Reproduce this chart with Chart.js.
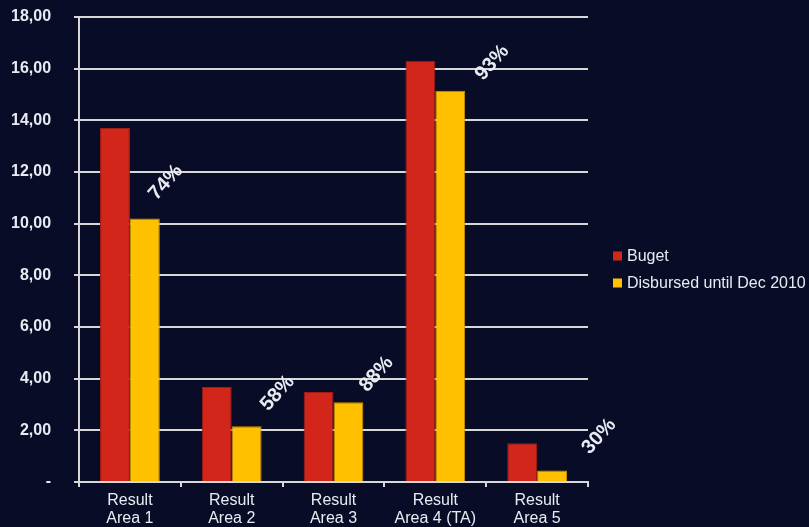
<!DOCTYPE html>
<html><head><meta charset="utf-8">
<script src="https://cdn.jsdelivr.net/npm/chart.js@4/dist/chart.umd.min.js"></script>
<style>html,body{margin:0;padding:0;background:#080c27;}#wrap{width:809px;height:527px;position:relative;}</style>
</head><body><div id="wrap"><canvas id="c" width="809" height="527"></canvas></div>
<script>
const categories = [['Result','Area 1'],['Result','Area 2'],['Result','Area 3'],['Result','Area 4 (TA)'],['Result','Area 5']];
const seriesNames = ['Buget','Disbursed until Dec 2010'];
const budget = [13.70, 3.68, 3.48, 16.31, 1.50];
const disbursed = [10.20, 2.16, 3.09, 15.15, 0.45];
const percentLabels = ['74%','58%','88%','93%','30%'];
const yTickLabels = ['-','2,00','4,00','6,00','8,00','10,00','12,00','14,00','16,00','18,00'];

const TEXT = '#e8ebf2';
const FONT = '"Liberation Sans", Arial, sans-serif';

const percentPlugin = {
  id: 'percentLabels',
  afterDatasetsDraw(chart, args, opts) {
    const meta = chart.getDatasetMeta(1);
    const ctx = chart.ctx;
    ctx.save();
    ctx.fillStyle = TEXT;
    ctx.font = 'bold 20px ' + FONT;
    ctx.textAlign = 'center';
    ctx.textBaseline = 'middle';
    meta.data.forEach((el, i) => {
      const off = opts.offsets[i];
      ctx.save();
      ctx.translate(el.x + off[0], el.y + off[1]);
      ctx.rotate(-opts.angle * Math.PI / 180);
      ctx.fillText(percentLabels[i], 0, 0);
      ctx.restore();
    });
    ctx.restore();
  }
};

const legendPlugin = {
  id: 'customLegend',
  afterDraw(chart, args, opts) {
    const ctx = chart.ctx;
    ctx.save();
    ctx.font = '16px ' + FONT;
    ctx.textBaseline = 'middle';
    ctx.textAlign = 'left';
    chart.data.datasets.forEach((ds, i) => {
      const y = opts.top + i * opts.rowGap;
      ctx.fillStyle = ds.backgroundColor;
      ctx.fillRect(opts.left, y - 4.5, 9, 9);
      ctx.fillStyle = TEXT;
      ctx.fillText(ds.label, opts.left + 14, y + 1);
    });
    ctx.restore();
  }
};

const bgPlugin = {
  id: 'bg',
  beforeDraw(chart) {
    const ctx = chart.ctx;
    ctx.save();
    ctx.fillStyle = '#080c27';
    ctx.fillRect(0, 0, chart.width, chart.height);
    ctx.restore();
  }
};

new Chart(document.getElementById('c'), {
  type: 'bar',
  data: {
    labels: categories,
    datasets: [
      { label: seriesNames[0], data: budget, backgroundColor: '#d2261a', borderColor: '#a01c12', borderWidth: 1 },
      { label: seriesNames[1], data: disbursed, backgroundColor: '#ffc000', borderColor: '#c99400', borderWidth: 1 }
    ]
  },
  options: {
    responsive: false,
    devicePixelRatio: 1,
    animation: false,
    layout: { padding: { left: -12, right: 221, top: 17, bottom: 0 } },
    datasets: { bar: { categoryPercentage: 0.587, barPercentage: 1.0 } },
    plugins: {
      legend: { display: false },
      tooltip: { enabled: false },
      percentLabels: { angle: 48, offsets: [[21,-36],[31,-33],[28,-28],[42,-28],[47,-34]] },
      customLegend: { left: 613, top: 256, rowGap: 27 }
    },
    scales: {
      x: {
        grid: { display: true, drawOnChartArea: false, drawTicks: true, tickLength: 5, color: '#d8d8d8', lineWidth: 2, offset: true },
        border: { display: true, color: '#d8d8d8', width: 2 },
        ticks: { color: TEXT, font: { family: FONT, size: 16, lineHeight: 1.1 }, padding: 5, maxRotation: 0, autoSkip: false },
        afterFit: (s) => { s.height = 45; s.paddingLeft = 0; s.paddingRight = 0; }
      },
      y: {
        min: 0, max: 18,
        grid: { color: '#d8d8d8', lineWidth: 2, drawTicks: true, tickLength: 5 },
        border: { display: true, color: '#d8d8d8', width: 2 },
        ticks: { stepSize: 2, color: TEXT, font: { family: FONT, size: 16, weight: 'bold' }, padding: 23,
          callback: (v, i) => yTickLabels[i] },
        afterFit: (s) => { s.paddingTop = 0; s.paddingBottom = 0; }
      }
    }
  },
  plugins: [bgPlugin, percentPlugin, legendPlugin]
});
</script></body></html>
